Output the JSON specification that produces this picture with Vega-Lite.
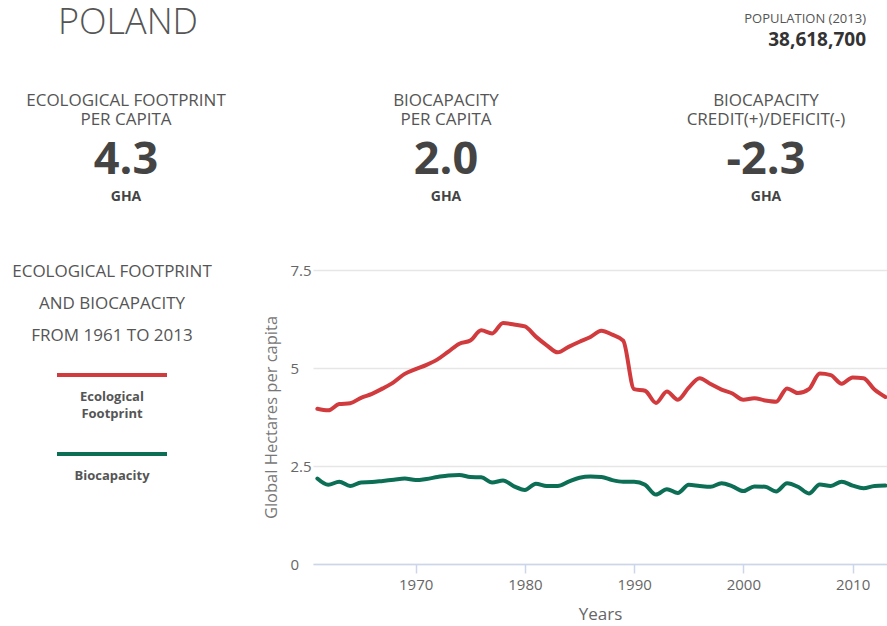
{
  "$schema": "https://vega.github.io/schema/vega-lite/v6.json",
  "padding": 0,
  "background": "white",
  "bounds": "flush",
  "spacing": 0,
  "config": {"view": {"stroke": null}, "font": "Open Sans"},
  "vconcat": [
    {
      "width": 887,
      "height": 270,
      "data": {"values": [
        {"kind": "kpi", "col": "c1", "part": "label", "text": "ECOLOGICAL FOOTPRINT\nPER CAPITA"},
        {"kind": "kpi", "col": "c2", "part": "label", "text": "BIOCAPACITY\nPER CAPITA"},
        {"kind": "kpi", "col": "c3", "part": "label", "text": "BIOCAPACITY\nCREDIT(+)/DEFICIT(-)"},
        {"kind": "kpi", "col": "c1", "part": "value", "text": "4.3"},
        {"kind": "kpi", "col": "c2", "part": "value", "text": "2.0"},
        {"kind": "kpi", "col": "c3", "part": "value", "text": "-2.3"},
        {"kind": "kpi", "col": "c1", "part": "unit", "text": "GHA"},
        {"kind": "kpi", "col": "c2", "part": "unit", "text": "GHA"},
        {"kind": "kpi", "col": "c3", "part": "unit", "text": "GHA"},
        {"kind": "head", "col": "left", "part": "top", "text": "POLAND"},
        {"kind": "head", "col": "right", "part": "top", "text": "POPULATION (2013)"},
        {"kind": "head", "col": "right", "part": "bottom", "text": "38,618,700"}
      ]},
      "layer": [
        {
          "transform": [{"filter": "datum.kind == 'kpi'"}],
          "encoding": {
            "x": {"field": "col", "type": "nominal", "scale": {"type": "point", "domain": ["c1", "c2", "c3"], "range": [126, 766], "padding": 0}, "axis": null},
            "y": {"field": "part", "type": "nominal", "scale": {"type": "point", "domain": ["label", "value", "unit"], "range": [110, 197], "padding": 0}, "axis": null},
            "text": {"field": "text"}
          },
          "layer": [
            {"transform": [{"filter": "datum.part == 'label'"}], "mark": {"type": "text", "fontSize": 17, "lineHeight": 19, "lineBreak": "\n", "color": "#555", "baseline": "middle", "dy": -9}},
            {"transform": [{"filter": "datum.part == 'value'"}], "mark": {"type": "text", "fontSize": 45, "fontWeight": "bold", "color": "#444", "baseline": "middle", "dy": 6.5}},
            {"transform": [{"filter": "datum.part == 'unit'"}], "mark": {"type": "text", "fontSize": 14, "fontWeight": "bold", "color": "#444", "baseline": "middle"}}
          ]
        },
        {
          "transform": [{"filter": "datum.kind == 'head'"}],
          "encoding": {
            "x": {"field": "col", "type": "nominal", "scale": {"type": "point", "domain": ["left", "right"], "range": [58, 866], "padding": 0}, "axis": null},
            "y": {"field": "part", "type": "nominal", "scale": {"type": "point", "domain": ["top", "bottom"], "range": [20, 40], "padding": 0}, "axis": null},
            "text": {"field": "text"}
          },
          "layer": [
            {"transform": [{"filter": "datum.col == 'left'"}], "mark": {"type": "text", "align": "left", "fontSize": 36, "fontWeight": 300, "color": "#555", "baseline": "middle", "dy": 3}},
            {"transform": [{"filter": "datum.col == 'right' && datum.part == 'top'"}], "mark": {"type": "text", "align": "right", "fontSize": 13, "color": "#555", "baseline": "middle", "dy": -1}},
            {"transform": [{"filter": "datum.col == 'right' && datum.part == 'bottom'"}], "mark": {"type": "text", "align": "right", "fontSize": 19, "fontWeight": "bold", "color": "#333", "baseline": "middle"}}
          ]
        }
      ],
      "resolve": {"scale": {"x": "independent", "y": "independent"}}
    },
    {
      "bounds": "flush",
      "spacing": 89,
      "hconcat": [
        {
          "width": 224,
          "height": 294,
          "data": {"values": [
            {"key": "heading", "text": "ECOLOGICAL FOOTPRINT\nAND BIOCAPACITY\nFROM 1961 TO 2013"},
            {"key": "Ecological Footprint", "text": "Ecological\nFootprint"},
            {"key": "Biocapacity", "text": "Biocapacity"}
          ]},
          "encoding": {
            "y": {"field": "key", "type": "nominal", "scale": {"type": "point", "domain": ["heading", "Ecological Footprint", "Biocapacity"], "range": [26, 184], "padding": 0}, "axis": null}
          },
          "layer": [
            {"transform": [{"filter": "datum.key == 'heading'"}], "mark": {"type": "text", "fontSize": 17, "lineHeight": 32, "lineBreak": "\n", "color": "#555", "baseline": "middle", "dy": -24}, "encoding": {"text": {"field": "text"}}},
            {"transform": [{"filter": "datum.key != 'heading'"}], "mark": {"type": "tick", "orient": "horizontal", "size": 110, "thickness": 4, "opacity": 1}, "encoding": {"color": {"field": "key", "type": "nominal", "scale": {"domain": ["Ecological Footprint", "Biocapacity"], "range": ["#d13b3e", "#0b6e55"]}, "legend": null}}},
            {"transform": [{"filter": "datum.key != 'heading'"}], "mark": {"type": "text", "fontSize": 13, "fontWeight": "bold", "lineHeight": 17, "lineBreak": "\n", "color": "#555", "baseline": "top", "dy": 16}, "encoding": {"text": {"field": "text"}}}
          ]
        },
        {
          "width": 574,
          "height": 294,
          "data": {"values": [
            {"year": 1961, "series": "Ecological Footprint", "value": 3.96},
            {"year": 1962, "series": "Ecological Footprint", "value": 3.92},
            {"year": 1963, "series": "Ecological Footprint", "value": 4.08},
            {"year": 1964, "series": "Ecological Footprint", "value": 4.10},
            {"year": 1965, "series": "Ecological Footprint", "value": 4.24},
            {"year": 1966, "series": "Ecological Footprint", "value": 4.34},
            {"year": 1967, "series": "Ecological Footprint", "value": 4.48},
            {"year": 1968, "series": "Ecological Footprint", "value": 4.64},
            {"year": 1969, "series": "Ecological Footprint", "value": 4.85},
            {"year": 1970, "series": "Ecological Footprint", "value": 4.97},
            {"year": 1971, "series": "Ecological Footprint", "value": 5.08},
            {"year": 1972, "series": "Ecological Footprint", "value": 5.22},
            {"year": 1973, "series": "Ecological Footprint", "value": 5.42},
            {"year": 1974, "series": "Ecological Footprint", "value": 5.62},
            {"year": 1975, "series": "Ecological Footprint", "value": 5.70},
            {"year": 1976, "series": "Ecological Footprint", "value": 5.96},
            {"year": 1977, "series": "Ecological Footprint", "value": 5.88},
            {"year": 1978, "series": "Ecological Footprint", "value": 6.15},
            {"year": 1979, "series": "Ecological Footprint", "value": 6.11},
            {"year": 1980, "series": "Ecological Footprint", "value": 6.06},
            {"year": 1981, "series": "Ecological Footprint", "value": 5.80},
            {"year": 1982, "series": "Ecological Footprint", "value": 5.58},
            {"year": 1983, "series": "Ecological Footprint", "value": 5.40},
            {"year": 1984, "series": "Ecological Footprint", "value": 5.54},
            {"year": 1985, "series": "Ecological Footprint", "value": 5.67},
            {"year": 1986, "series": "Ecological Footprint", "value": 5.79},
            {"year": 1987, "series": "Ecological Footprint", "value": 5.95},
            {"year": 1988, "series": "Ecological Footprint", "value": 5.85},
            {"year": 1989, "series": "Ecological Footprint", "value": 5.70},
            {"year": 1990, "series": "Ecological Footprint", "value": 4.46},
            {"year": 1991, "series": "Ecological Footprint", "value": 4.42},
            {"year": 1992, "series": "Ecological Footprint", "value": 4.11},
            {"year": 1993, "series": "Ecological Footprint", "value": 4.40},
            {"year": 1994, "series": "Ecological Footprint", "value": 4.19},
            {"year": 1995, "series": "Ecological Footprint", "value": 4.50},
            {"year": 1996, "series": "Ecological Footprint", "value": 4.74},
            {"year": 1997, "series": "Ecological Footprint", "value": 4.59},
            {"year": 1998, "series": "Ecological Footprint", "value": 4.45},
            {"year": 1999, "series": "Ecological Footprint", "value": 4.35},
            {"year": 2000, "series": "Ecological Footprint", "value": 4.19},
            {"year": 2001, "series": "Ecological Footprint", "value": 4.23},
            {"year": 2002, "series": "Ecological Footprint", "value": 4.17},
            {"year": 2003, "series": "Ecological Footprint", "value": 4.14},
            {"year": 2004, "series": "Ecological Footprint", "value": 4.48},
            {"year": 2005, "series": "Ecological Footprint", "value": 4.36},
            {"year": 2006, "series": "Ecological Footprint", "value": 4.46},
            {"year": 2007, "series": "Ecological Footprint", "value": 4.86},
            {"year": 2008, "series": "Ecological Footprint", "value": 4.82},
            {"year": 2009, "series": "Ecological Footprint", "value": 4.60},
            {"year": 2010, "series": "Ecological Footprint", "value": 4.76},
            {"year": 2011, "series": "Ecological Footprint", "value": 4.74},
            {"year": 2012, "series": "Ecological Footprint", "value": 4.45},
            {"year": 2013, "series": "Ecological Footprint", "value": 4.26},
            {"year": 1961, "series": "Biocapacity", "value": 2.18},
            {"year": 1962, "series": "Biocapacity", "value": 2.02},
            {"year": 1963, "series": "Biocapacity", "value": 2.10},
            {"year": 1964, "series": "Biocapacity", "value": 1.99},
            {"year": 1965, "series": "Biocapacity", "value": 2.08},
            {"year": 1966, "series": "Biocapacity", "value": 2.09},
            {"year": 1967, "series": "Biocapacity", "value": 2.12},
            {"year": 1968, "series": "Biocapacity", "value": 2.15},
            {"year": 1969, "series": "Biocapacity", "value": 2.18},
            {"year": 1970, "series": "Biocapacity", "value": 2.14},
            {"year": 1971, "series": "Biocapacity", "value": 2.17},
            {"year": 1972, "series": "Biocapacity", "value": 2.22},
            {"year": 1973, "series": "Biocapacity", "value": 2.26},
            {"year": 1974, "series": "Biocapacity", "value": 2.27},
            {"year": 1975, "series": "Biocapacity", "value": 2.22},
            {"year": 1976, "series": "Biocapacity", "value": 2.21},
            {"year": 1977, "series": "Biocapacity", "value": 2.08},
            {"year": 1978, "series": "Biocapacity", "value": 2.13},
            {"year": 1979, "series": "Biocapacity", "value": 1.98},
            {"year": 1980, "series": "Biocapacity", "value": 1.89},
            {"year": 1981, "series": "Biocapacity", "value": 2.05},
            {"year": 1982, "series": "Biocapacity", "value": 1.99},
            {"year": 1983, "series": "Biocapacity", "value": 1.99},
            {"year": 1984, "series": "Biocapacity", "value": 2.10},
            {"year": 1985, "series": "Biocapacity", "value": 2.20},
            {"year": 1986, "series": "Biocapacity", "value": 2.23},
            {"year": 1987, "series": "Biocapacity", "value": 2.22},
            {"year": 1988, "series": "Biocapacity", "value": 2.14},
            {"year": 1989, "series": "Biocapacity", "value": 2.10},
            {"year": 1990, "series": "Biocapacity", "value": 2.10},
            {"year": 1991, "series": "Biocapacity", "value": 2.02},
            {"year": 1992, "series": "Biocapacity", "value": 1.77},
            {"year": 1993, "series": "Biocapacity", "value": 1.91},
            {"year": 1994, "series": "Biocapacity", "value": 1.81},
            {"year": 1995, "series": "Biocapacity", "value": 2.02},
            {"year": 1996, "series": "Biocapacity", "value": 1.99},
            {"year": 1997, "series": "Biocapacity", "value": 1.97},
            {"year": 1998, "series": "Biocapacity", "value": 2.06},
            {"year": 1999, "series": "Biocapacity", "value": 1.98},
            {"year": 2000, "series": "Biocapacity", "value": 1.86},
            {"year": 2001, "series": "Biocapacity", "value": 1.98},
            {"year": 2002, "series": "Biocapacity", "value": 1.97},
            {"year": 2003, "series": "Biocapacity", "value": 1.85},
            {"year": 2004, "series": "Biocapacity", "value": 2.06},
            {"year": 2005, "series": "Biocapacity", "value": 1.97},
            {"year": 2006, "series": "Biocapacity", "value": 1.80},
            {"year": 2007, "series": "Biocapacity", "value": 2.03},
            {"year": 2008, "series": "Biocapacity", "value": 1.99},
            {"year": 2009, "series": "Biocapacity", "value": 2.10},
            {"year": 2010, "series": "Biocapacity", "value": 2.00},
            {"year": 2011, "series": "Biocapacity", "value": 1.93},
            {"year": 2012, "series": "Biocapacity", "value": 1.99},
            {"year": 2013, "series": "Biocapacity", "value": 2.00}
          ]},
          "mark": {"type": "line", "strokeWidth": 4, "strokeJoin": "round", "strokeCap": "round", "interpolate": "monotone", "clip": true},
          "encoding": {
            "x": {
              "field": "year", "type": "quantitative",
              "scale": {"domain": [1960.6, 2013.15], "nice": false, "zero": false},
              "axis": {"title": "Years", "values": [1970, 1980, 1990, 2000, 2010], "format": "d", "grid": false,
                "domainColor": "#ccd6eb", "domainWidth": 1.5, "tickColor": "#ccd6eb", "tickSize": 9, "tickWidth": 1.5,
                "labelFontSize": 15, "labelColor": "#666", "labelPadding": 4,
                "titleFontSize": 17, "titleFontWeight": "normal", "titleColor": "#666", "titlePadding": 14}
            },
            "y": {
              "field": "value", "type": "quantitative",
              "scale": {"domain": [0, 7.5], "nice": false},
              "axis": {"title": "Global Hectares per capita", "values": [0, 2.5, 5, 7.5], "format": ".1~f",
                "grid": true, "gridColor": "#e6e6e6", "gridWidth": 1.5, "domain": false, "ticks": false,
                "labelFontSize": 15, "labelColor": "#666", "labelAlign": "left", "labelPadding": 23,
                "titleFontSize": 16.5, "titleFontWeight": "normal", "titleColor": "#777", "titlePadding": 11}
            },
            "color": {"field": "series", "type": "nominal", "scale": {"domain": ["Ecological Footprint", "Biocapacity"], "range": ["#d13b3e", "#0b6e55"]}, "legend": null}
          }
        }
      ]
    }
  ]
}
